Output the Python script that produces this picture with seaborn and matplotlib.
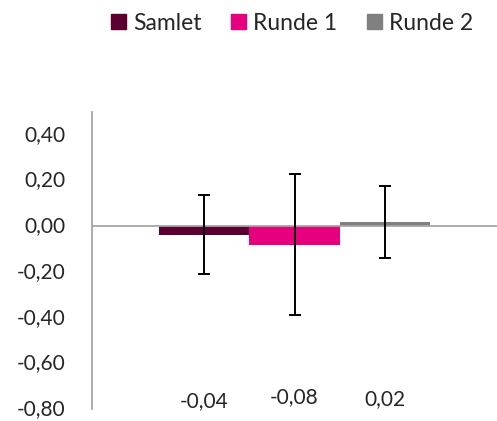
import numpy as np
import pandas as pd
import seaborn as sns
from matplotlib import pyplot as plt

sns.set_style('white')
plt.rcParams['font.family'] = ['Lato', 'DejaVu Sans']

series = ['Samlet', 'Runde 1', 'Runde 2']
values = [-0.04, -0.08, 0.02]
err_low = [-0.21, -0.39, -0.14]
err_high = [0.135, 0.23, 0.175]
labels = ['-0,04', '-0,08', '0,02']
yticks = [0.40, 0.20, 0.00, -0.20, -0.40, -0.60, -0.80]
colors = ['#5C0031', '#E6007E', '#808080']

df = pd.DataFrame({'kategori': [''] * 3, 'serie': series, 'verdi': values})

fig = plt.figure(figsize=(4.97, 4.21), dpi=100)
ax = fig.add_axes([92 / 497, 12 / 421, 405 / 497, 297 / 421])

sns.barplot(data=df, x='kategori', y='verdi', hue='serie', palette=colors,
            width=1.0, errorbar=None, saturation=1, legend=False, linewidth=0, ax=ax)

# error bars + labels at bar centres
centres = [p.get_x() + p.get_width() / 2 for p in ax.patches[:3]]
label_y = [-0.765, -0.748, -0.757]
for cx, v, lo, hi, lab, ly in zip(centres, values, err_low, err_high, labels, label_y):
    ax.errorbar(cx, v, yerr=[[v - lo], [hi - v]], fmt='none', ecolor='black',
                elinewidth=1.4, capsize=4, capthick=1.4, zorder=5)
    ax.text(cx, ly, lab, ha='center', va='center', fontsize=15)

ax.axhline(0, color='#A6A6A6', lw=1.3, zorder=1)
ax.set_xlim(-0.747, 0.747)
ax.set_ylim(-0.80, 0.50)
ax.set_yticks(yticks)
ax.set_yticklabels([f'{t:.2f}'.replace('.', ',') for t in yticks], fontsize=15, va='center')
ax.tick_params(axis='y', length=0, pad=19)
ax.set_xticks([])
ax.set_xlabel('')
ax.set_ylabel('')
for s in ['top', 'right', 'bottom']:
    ax.spines[s].set_visible(False)
ax.spines['left'].set_color('#A6A6A6')
ax.spines['left'].set_linewidth(1.3)

handles = [plt.Rectangle((0, 0), 1, 1, color=c) for c in colors]
fig.legend(handles, series, loc='center', bbox_to_anchor=(292 / 497, 1 - 23 / 421),
           ncol=3, frameon=False, fontsize=16.5, handlelength=0.65, handleheight=0.65,
           handletextpad=0.3, columnspacing=1.3)

fig.savefig('out.png', dpi=100)
